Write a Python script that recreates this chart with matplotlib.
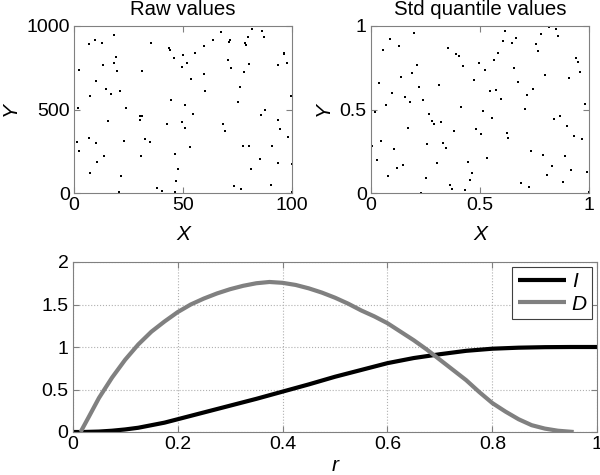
import matplotlib
matplotlib.use("Agg")
import matplotlib.pyplot as plt
import numpy as np

plt.rcParams['font.family'] = ['Liberation Sans', 'DejaVu Sans']

## Data

raw_x = [18.4, 7.1, 9.8, 13.0, 2.1, 13.5, 19.2, 18.4, 19.6, 10.0,
         14.6, 17.2, 21.2, 7.2, 2.0, 23.8, 15.6, 6.7, 1.4, 0.0,
         2.1, 10.3, 10.4, 13.7, 7.5, 22.9, 21.5, 20.7, 35.4, 31.1,
         30.2, 31.4, 30.5, 32.7, 34.7, 30.7, 37.9, 40.5, 43.7, 44.0,
         46.0, 49.8, 49.5, 51.8, 53.7, 55.5, 44.3, 51.1, 54.6, 42.8,
         49.5, 50.9, 53.1, 46.5, 47.5, 46.9, 46.3, 59.7, 63.7, 67.5,
         59.5, 60.3, 71.6, 71.0, 70.8, 71.9, 74.4, 78.5, 78.8, 79.8,
         81.6, 86.3, 87.1, 80.2, 77.8, 76.2, 75.0, 68.4, 69.2, 77.6,
         80.1, 81.3, 73.3, 76.5, 85.1, 85.9, 87.7, 90.6, 90.3, 93.6,
         94.5, 93.6, 93.6, 96.2, 96.5, 97.9, 99.5, 98.3, 99.8, 100.0]
raw_y = [946, 892, 916, 898, 739, 766, 812, 776, 729, 669,
         621, 595, 609, 583, 511, 511, 431, 331, 303, 281,
         250, 297, 184, 220, 118, 309, 102, 6, 896, 733,
         459, 459, 437, 325, 303, 222, 28, 12, 866, 856,
         810, 824, 754, 778, 685, 836, 557, 525, 473, 415,
         423, 387, 277, 234, 144, 70, 8, 882, 914, 964,
         711, 613, 914, 906, 798, 750, 1000, 898, 888, 934,
         980, 970, 932, 770, 723, 635, 543, 413, 373, 283,
         279, 142, 42, 24, 206, 467, 499, 279, 50, 435,
         385, 178, 764, 836, 832, 780, 583, 337, 174, 8]

std_x = [0.198, 0.087, 0.057, 0.127, 0.037, 0.138, 0.210, 0.189, 0.219, 0.098,
         0.158, 0.178, 0.239, 0.067, 0.017, 0.169, 0.048, 0.005, 0.000, 0.028,
         0.107, 0.118, 0.147, 0.077, 0.259, 0.250, 0.229, 0.351, 0.311, 0.268,
         0.279, 0.291, 0.321, 0.331, 0.342, 0.301, 0.362, 0.371, 0.391, 0.402,
         0.422, 0.494, 0.474, 0.525, 0.544, 0.564, 0.413, 0.514, 0.554, 0.382,
         0.483, 0.503, 0.534, 0.443, 0.463, 0.452, 0.433, 0.584, 0.604, 0.615,
         0.646, 0.666, 0.696, 0.656, 0.574, 0.595, 0.675, 0.745, 0.716, 0.706,
         0.626, 0.630, 0.736, 0.687, 0.727, 0.758, 0.767, 0.778, 0.817, 0.850,
         0.859, 0.798, 0.788, 0.828, 0.808, 0.839, 0.868, 0.890, 0.880, 0.900,
         0.929, 0.919, 0.910, 0.940, 0.949, 0.960, 0.980, 0.969, 0.991, 1.000]
std_y = [0.960, 0.920, 0.859, 0.880, 0.657, 0.697, 0.769, 0.717, 0.635, 0.596,
         0.574, 0.546, 0.554, 0.524, 0.484, 0.392, 0.311, 0.281, 0.241, 0.199,
         0.261, 0.147, 0.169, 0.100, 0.291, 0.088, 0.000, 0.871, 0.647, 0.474,
         0.434, 0.414, 0.424, 0.301, 0.269, 0.177, 0.048, 0.026, 0.831, 0.821,
         0.759, 0.779, 0.675, 0.737, 0.608, 0.799, 0.514, 0.494, 0.452, 0.373,
         0.382, 0.351, 0.209, 0.187, 0.118, 0.076, 0.016, 0.839, 0.910, 0.972,
         0.900, 0.930, 1.000, 0.747, 0.614, 0.564, 0.665, 0.625, 0.584, 0.504,
         0.361, 0.331, 0.249, 0.058, 0.036, 0.890, 0.849, 0.950, 0.994, 0.980,
         0.942, 0.707, 0.229, 0.159, 0.108, 0.442, 0.462, 0.219, 0.066, 0.402,
         0.341, 0.137, 0.687, 0.809, 0.787, 0.727, 0.534, 0.321, 0.127, 0.004]

r_I = [0.0, 0.02, 0.05, 0.075, 0.1, 0.125, 0.15, 0.175, 0.2, 0.225, 0.25,
       0.3, 0.35, 0.4, 0.45, 0.5, 0.55, 0.6, 0.65, 0.7, 0.75, 0.8,
       0.85, 0.9, 0.95, 1.0]
I_vals = [0.0, 0.0, 0.005, 0.015, 0.03, 0.05, 0.08, 0.11, 0.15, 0.19, 0.23,
          0.31, 0.39, 0.475, 0.56, 0.65, 0.73, 0.81, 0.87, 0.915, 0.955, 0.98,
          0.992, 0.998, 1.0, 1.0]

r_D = [0.015, 0.03, 0.05, 0.075, 0.1, 0.125, 0.15, 0.175, 0.2, 0.225, 0.25,
       0.275, 0.3, 0.325, 0.35, 0.375, 0.4, 0.425, 0.45, 0.475, 0.5,
       0.525, 0.55, 0.575, 0.6, 0.625, 0.65, 0.675, 0.7, 0.725, 0.75,
       0.775, 0.8, 0.825, 0.85, 0.875, 0.9, 0.925, 0.955]
D_vals = [0.0, 0.17, 0.4, 0.64, 0.85, 1.03, 1.18, 1.30, 1.41, 1.50, 1.57,
          1.63, 1.68, 1.72, 1.75, 1.765, 1.755, 1.73, 1.69, 1.64, 1.58,
          1.51, 1.43, 1.36, 1.28, 1.18, 1.08, 0.97, 0.85, 0.73, 0.61,
          0.47, 0.34, 0.24, 0.15, 0.08, 0.04, 0.015, 0.0]

## Figure

edge = '#808080'
fig = plt.figure(figsize=(6, 4.75), dpi=100)

def style(ax):
    for s in ax.spines.values():
        s.set_color(edge)
    ax.tick_params(direction='in', length=4, color=edge, labelsize=14, pad=3,
                   top=True, right=True)

ax1 = fig.add_axes([74/600, 1 - 193/475, 218/600, 167/475])
ax1.scatter(raw_x, raw_y, s=3, c='k', marker='s', linewidths=0)
ax1.set_xlim(0, 100)
ax1.set_ylim(0, 1000)
ax1.set_xticks([0, 50, 100])
ax1.set_yticks([0, 500, 1000])
ax1.set_title("Raw values", fontsize=14.7, pad=8)
ax1.set_xlabel("X", fontsize=15, style='italic', labelpad=8)
ax1.set_ylabel("Y", fontsize=15, style='italic', labelpad=5)
style(ax1)

ax2 = fig.add_axes([371/600, 1 - 193/475, 218/600, 167/475])
ax2.scatter(std_x, std_y, s=3, c='k', marker='s', linewidths=0)
ax2.set_xlim(0, 1)
ax2.set_ylim(0, 1)
ax2.set_xticks([0, 0.5, 1])
ax2.set_xticklabels(['0', '0.5', '1'])
ax2.set_yticks([0, 0.5, 1])
ax2.set_yticklabels(['0', '0.5', '1'])
ax2.set_title("Std quantile values", fontsize=14.7, pad=8)
ax2.set_xlabel("X", fontsize=15, style='italic', labelpad=8)
ax2.set_ylabel("Y", fontsize=15, style='italic', labelpad=5)
style(ax2)

ax3 = fig.add_axes([72.7/600, 1 - 432/475, 524.6/600, 170/475])
ax3.plot(r_I, I_vals, color='k', lw=3, label='I', solid_capstyle='butt')
ax3.plot(r_D, D_vals, color='#808080', lw=3, label='D', solid_capstyle='butt')
ax3.set_xlim(0, 1)
ax3.set_ylim(0, 2)
ax3.set_xticks([0, 0.2, 0.4, 0.6, 0.8, 1])
ax3.set_xticklabels(['0', '0.2', '0.4', '0.6', '0.8', '1'])
ax3.set_yticks([0, 0.5, 1, 1.5, 2])
ax3.set_yticklabels(['0', '0.5', '1', '1.5', '2'])
ax3.grid(True, linestyle=':', color='#b0b0b0', lw=0.8)
ax3.set_xlabel("r", fontsize=15, style='italic', labelpad=2)
style(ax3)
leg = ax3.legend(loc='upper right', prop={'style': 'italic', 'size': 15},
                 handlelength=2.3, handletextpad=0.3, borderpad=0.25, labelspacing=0.15,
                 fancybox=False, framealpha=1, borderaxespad=0.25)
leg.get_frame().set_edgecolor('#404040')
leg.get_frame().set_linewidth(0.8)

fig.savefig("out.png", dpi=100)
